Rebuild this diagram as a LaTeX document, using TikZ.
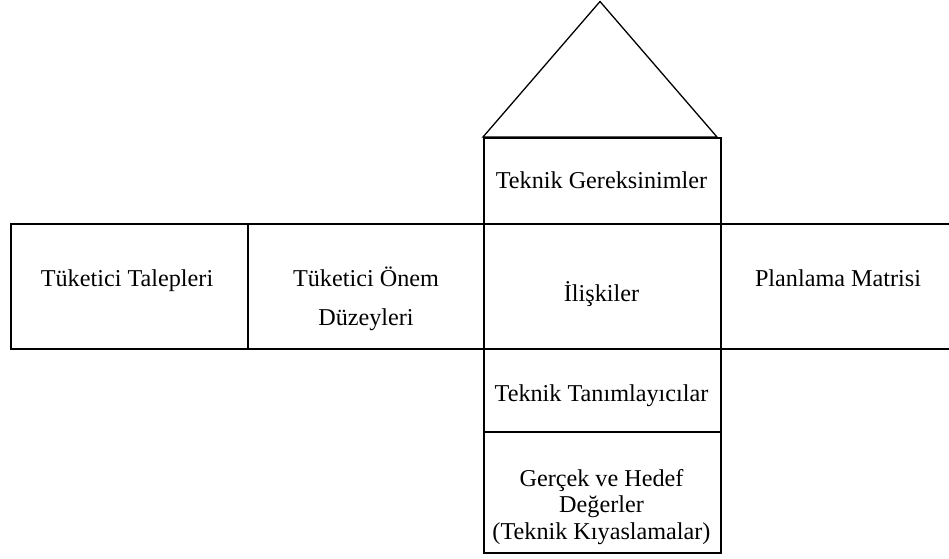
\documentclass[tikz,border=0pt]{standalone}
\usepackage{fontspec}
\setmainfont{Liberation Serif}
\begin{document}
\begin{tikzpicture}[x=1pt,y=-1pt,
  box/.style={draw, line width=2pt, inner sep=0pt, anchor=north west},
  lbl/.style={inner sep=0pt, anchor=base, align=center, font=\fontsize{24.2}{26.5}\selectfont}]
\useasboundingbox (0,0) rectangle (949,558);
\clip (0,0) rectangle (949,558);
% boxes
\node[box, minimum width=236.7pt, minimum height=125.5pt] (tal) at (10,222.5) {};
\node[box, minimum width=236.3pt, minimum height=125.5pt] (onem) at (246.7,222.5) {};
\node[box, minimum width=240pt, minimum height=125.5pt] (plan) at (720,222.5) {};
\node[box, minimum width=237pt, minimum height=85.5pt] (tg) at (483,137) {};
\node[box, minimum width=237pt, minimum height=125.5pt] (il) at (483,222.5) {};
\node[box, minimum width=237pt, minimum height=83pt] (tt) at (483,348) {};
\node[box, minimum width=237pt, minimum height=121pt] (gh) at (483,431) {};
% roof
\coordinate (apex) at (600,1.5);
\coordinate (bl) at (483,137);
\coordinate (br) at (717,137);
\draw[line width=1.3pt] (bl) -- (apex) -- (br) -- cycle;
% labels
\node[lbl] (t1) at (127,286) {Tüketici Talepleri};
\node[lbl] (t2) at (366,325) {Tüketici Önem\\[12.5pt]Düzeyleri};
\node[lbl] (t3) at (838,286) {Planlama Matrisi};
\node[lbl] (t4) at (601.5,188) {Teknik Gereksinimler};
\node[lbl] (t5) at (601.5,301) {İlişkiler};
\node[lbl] (t6) at (601.5,401.5) {Teknik Tanımlayıcılar};
\node[lbl] (t7) at (601.5,539) {Gerçek ve Hedef\\Değerler\\(Teknik Kıyaslamalar)};
\end{tikzpicture}
\end{document}
